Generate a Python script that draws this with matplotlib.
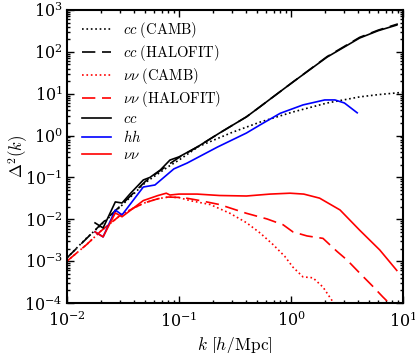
import matplotlib
matplotlib.use('Agg')
import matplotlib.pyplot as plt
import numpy as np

matplotlib.rcParams['mathtext.fontset'] = 'cm'
matplotlib.rcParams['font.family'] = 'serif'
matplotlib.rcParams['font.serif'] = ['DejaVu Serif']
matplotlib.rcParams['font.size'] = 10

# linear theory, cold matter (CAMB)
k_cc_lin = [0.01, 0.015, 0.02, 0.03, 0.05, 0.08, 0.1, 0.15, 0.3, 0.53, 1.04, 2.1, 4.1, 6.0, 10.0]
p_cc_lin = [0.0012, 0.0036, 0.0072, 0.02, 0.075, 0.18, 0.26, 0.55, 1.2, 2.1, 3.66, 6.0, 8.4, 9.5, 10.8]

# HALOFIT, cold matter
k_cc_hf = [0.01, 0.02, 0.03, 0.05, 0.08, 0.1, 0.15, 0.23, 0.4, 0.53, 0.65, 1.04, 2.1, 4.1, 6.0, 9.0]
p_cc_hf = [0.0012, 0.0075, 0.021, 0.08, 0.2, 0.3, 0.56, 1.15, 2.8, 4.9, 7.4, 19.0, 77.0, 222.0, 330.0, 465.0]

# linear theory, neutrinos (CAMB)
k_nn_lin = [0.01, 0.015, 0.02, 0.03, 0.04, 0.05, 0.065, 0.08, 0.1, 0.125, 0.19, 0.285,
            0.4, 0.53, 0.69, 0.88, 1.04, 1.28, 1.57, 1.93, 2.37, 2.6]
p_nn_lin = [0.001, 0.0025, 0.0052, 0.0125, 0.019, 0.025, 0.031, 0.034, 0.033, 0.028, 0.0225, 0.0139,
            0.0083, 0.0047, 0.0025, 0.0013, 0.00072, 0.00042, 0.0004, 0.00024, 0.000106, 0.00007]

# HALOFIT, neutrinos
k_nn_hf = [0.01, 0.015, 0.02, 0.03, 0.04, 0.05, 0.065, 0.08, 0.109, 0.154, 0.23, 0.4, 0.61, 0.85,
           1.04, 1.39, 1.93, 2.58, 3.16, 4.1, 5.3, 6.6, 7.5, 8.2]
p_nn_hf = [0.001, 0.0025, 0.0052, 0.0125, 0.019, 0.025, 0.031, 0.034, 0.033, 0.028, 0.0225, 0.0139,
           0.0102, 0.0074, 0.005, 0.004, 0.0035, 0.0017, 0.00107, 0.00052, 0.00026, 0.00014, 0.0001, 0.00008]

# simulation, cold matter
k_cc = [0.0178, 0.021, 0.027, 0.031, 0.037, 0.048, 0.055, 0.068, 0.083, 0.1, 0.145, 0.23, 0.4,
        0.53, 0.65, 1.04, 2.1, 4.1, 6.0, 8.8]
p_cc = [0.0082, 0.0062, 0.026, 0.0245, 0.042, 0.087, 0.1, 0.15, 0.26, 0.31, 0.53, 1.15, 2.8,
        4.9, 7.4, 19.0, 75.0, 214.0, 320.0, 437.0]

# simulation, halos
k_hh = [0.0178, 0.021, 0.027, 0.031, 0.048, 0.061, 0.09, 0.118, 0.22, 0.4, 0.53, 0.8, 1.28,
        2.0, 2.47, 3.0, 3.9]
p_hh = [0.005, 0.0038, 0.0167, 0.0127, 0.059, 0.066, 0.16, 0.22, 0.53, 1.15, 1.8, 3.4, 5.4,
        7.1, 7.1, 6.0, 3.5]

# simulation, neutrinos
k_nn = [0.0178, 0.021, 0.027, 0.031, 0.048, 0.065, 0.077, 0.083, 0.1, 0.145, 0.23, 0.4, 0.65,
        0.98, 1.3, 1.8, 2.74, 4.1, 6.2, 8.8]
p_nn = [0.005, 0.0038, 0.0142, 0.0115, 0.028, 0.037, 0.042, 0.038, 0.040, 0.040, 0.037, 0.036, 0.040,
        0.042, 0.040, 0.032, 0.0167, 0.0055, 0.00185, 0.0006]

fig = plt.figure(figsize=(4.15, 3.53), dpi=100)
ax = fig.add_axes([67/415, 1-303/353, 336/415, 293/353])

lw = 1.2
ax.plot(k_cc_lin, p_cc_lin, color='k', ls=':', lw=lw, label=r'$cc\ \mathrm{(CAMB)}$')
ax.plot(k_cc_hf, p_cc_hf, color='k', ls='--', dashes=(8, 4), lw=lw, label=r'$cc\ \mathrm{(HALOFIT)}$')
ax.plot(k_nn_lin, p_nn_lin, color='r', ls=':', lw=lw, label=r'$\nu\nu\ \mathrm{(CAMB)}$')
ax.plot(k_nn_hf, p_nn_hf, color='r', ls='--', dashes=(8, 4), lw=lw, label=r'$\nu\nu\ \mathrm{(HALOFIT)}$')
ax.plot(k_cc, p_cc, color='k', lw=lw, label=r'$cc$')
ax.plot(k_hh, p_hh, color='b', lw=lw, label=r'$hh$')
ax.plot(k_nn, p_nn, color='r', lw=lw, label=r'$\nu\nu$')

ax.set_xscale('log')
ax.set_yscale('log')
ax.set_xlim(1e-2, 1e1)
ax.set_ylim(1e-4, 1e3)
ax.set_xlabel(r'$k\ [h/\mathrm{Mpc}]$', fontsize=12.5, labelpad=3)
ax.set_ylabel(r'$\Delta^2(k)$', fontsize=12, labelpad=-4)

for s in ax.spines.values():
    s.set_linewidth(1.5)
ax.tick_params(which='both', direction='in', top=True, right=True, width=1)
ax.tick_params(which='major', length=5, labelsize=11.5)
ax.tick_params(axis='x', which='major', pad=6)
ax.tick_params(axis='y', which='major', pad=3)
ax.tick_params(which='minor', length=2.5)

ax.legend(loc='upper left', bbox_to_anchor=(0.015, 1.0), frameon=False, fontsize=10.5,
          handlelength=2.0, labelspacing=0.2, borderaxespad=0.3)

plt.savefig('out.png', dpi=100)
